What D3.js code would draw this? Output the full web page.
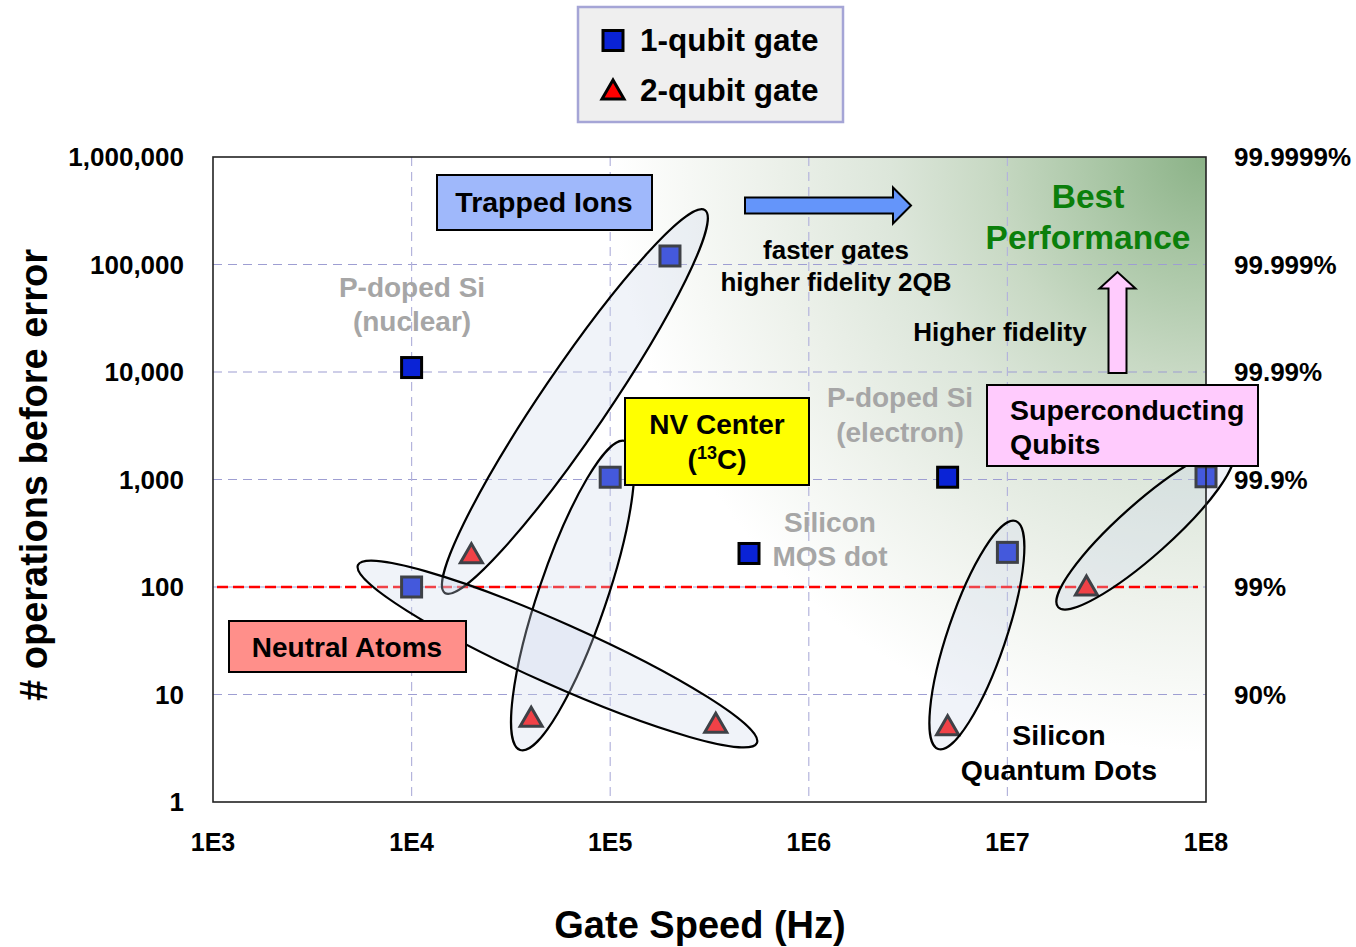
<!DOCTYPE html>
<html>
<head>
<meta charset="UTF-8">
<script src="https://d3js.org/d3.v7.min.js"></script>
<style>
  body { margin: 0; background: #fff; }
  text { font-family: Arial, "Liberation Sans", sans-serif; font-weight: bold; }
</style>
</head>
<body>
<svg id="canvas"></svg>
<script>

width = 1356;
height = 947;

// axis ticks
xTicks = [1e3, 1e4, 1e5, 1e6, 1e7, 1e8];
xTickLabels = ["1E3", "1E4", "1E5", "1E6", "1E7", "1E8"];
yTicks = [1, 10, 100, 1000, 10000, 100000, 1000000];
yTickLabels = ["1", "10", "100", "1,000", "10,000", "100,000", "1,000,000"];
fidelityLabels = ["", "90%", "99%", "99.9%", "99.99%", "99.999%", "99.9999%"];
threshold = 100;

// 1-qubit gates: speed (Hz), operations before error
oneQubitSpeed = [1e4, 2e5, 1e5, 1e4, 5e5, 5e6, 1e7, 1e8];
oneQubitOps = [11000, 120000, 1050, 100, 205, 1050, 210, 1060];

// 2-qubit gates
twoQubitSpeed = [2e4, 4e4, 3.4e5, 5e6, 2.5e7];
twoQubitOps = [200, 6, 5.3, 5, 100];

// platform groups, ends of each ellipse in data units
groupNames = ["Trapped Ions", "NV Center", "Neutral Atoms", "Silicon Quantum Dots", "Superconducting Qubits"];
groupStart = [[1.47e4, 88], [3.52e4, 3.05], [5.37e3, 160], [4.48e6, 3.11], [1.8e7, 65]];
groupEnd = [[3.0e5, 3.21e5], [1.19e5, 2280], [5.48e5, 3.54], [1.1e7, 411], [1.35e8, 1800]];

// layout
plot = {left: 213, right: 1206, top: 157, bottom: 802};
ellipseHalfWidth = [33, 34, 31, 29, 26];

canvas = d3.select("#canvas")
    .attr("width", width)
    .attr("height", height);

x = d3.scaleLog().domain([1e3, 1e8]).range([plot.left, plot.right]);
y = d3.scaleLog().domain([1, 1e6]).range([plot.bottom, plot.top]);

defs = canvas.append("defs");
grad = defs.append("radialGradient")
    .attr("id", "best")
    .attr("gradientUnits", "userSpaceOnUse")
    .attr("cx", x(1e8)).attr("cy", y(1e6)).attr("r", 700);
[[0, "#8bb287"], [0.15, "#a9c6a5"], [0.31, "#c8d9c4"], [0.45, "#dce6da"], [0.64, "#eef2ec"], [0.85, "#ffffff"], [1, "#ffffff"]]
    .forEach(s => grad.append("stop").attr("offset", s[0]).attr("stop-color", s[1]));

// background
canvas.append("rect")
    .attr("x", plot.left).attr("y", plot.top)
    .attr("width", plot.right - plot.left).attr("height", plot.bottom - plot.top)
    .attr("fill", "url(#best)");

// grid
canvas.selectAll(".hgrid")
    .data(yTicks.slice(1, -1))
    .enter().append("line")
        .attr("x1", plot.left).attr("x2", plot.right)
        .attr("y1", d => y(d)).attr("y2", d => y(d))
        .attr("stroke", "#9e9ed2").attr("stroke-width", 1.2)
        .attr("stroke-dasharray", "9,6");

canvas.selectAll(".vgrid")
    .data(xTicks.slice(1, -1))
    .enter().append("line")
        .attr("y1", plot.top).attr("y2", plot.bottom)
        .attr("x1", d => x(d)).attr("x2", d => x(d))
        .attr("stroke", "#b4b4dc").attr("stroke-width", 1.2)
        .attr("stroke-dasharray", "9,6");

canvas.append("line")
    .attr("x1", plot.left + 4).attr("x2", plot.right - 8)
    .attr("y1", y(threshold)).attr("y2", y(threshold))
    .attr("stroke", "#ff0000").attr("stroke-width", 2.5)
    .attr("stroke-dasharray", "11,5");

// tick labels
canvas.selectAll(".ylab")
    .data(yTicks)
    .enter().append("text")
        .attr("x", 184).attr("y", d => y(d))
        .attr("dy", "0.36em")
        .attr("text-anchor", "end")
        .attr("font-size", 26)
        .text((d, i) => yTickLabels[i]);

canvas.selectAll(".rlab")
    .data(yTicks)
    .enter().append("text")
        .attr("x", 1234).attr("y", d => y(d))
        .attr("dy", "0.36em")
        .attr("font-size", 26)
        .text((d, i) => fidelityLabels[i]);

canvas.selectAll(".xlab")
    .data(xTicks)
    .enter().append("text")
        .attr("x", d => x(d)).attr("y", 851)
        .attr("text-anchor", "middle")
        .attr("font-size", 25)
        .text((d, i) => xTickLabels[i]);

// axis titles
canvas.append("text")
    .attr("x", 700).attr("y", 938)
    .attr("text-anchor", "middle")
    .attr("font-size", 38)
    .text("Gate Speed (Hz)");

canvas.append("text")
    .attr("transform", "translate(47,475) rotate(-90)")
    .attr("text-anchor", "middle")
    .attr("font-size", 38)
    .text("# operations before error");

// gray labels for single points
function label(lines, cx, cy, size, color, lh) {
    var t = canvas.append("text")
        .attr("text-anchor", "middle")
        .attr("font-size", size)
        .attr("fill", color);
    lines.forEach((l, i) => t.append("tspan")
        .attr("x", cx).attr("y", cy + i * lh).text(l));
    return t;
}
label(["P-doped Si", "(nuclear)"], 412, 297, 28, "#a6a6a6", 34);
label(["P-doped Si", "(electron)"], 900, 407, 28, "#a6a6a6", 35);
label(["Silicon", "MOS dot"], 830, 532, 28, "#a6a6a6", 34);

// markers
canvas.selectAll(".sq")
    .data(oneQubitSpeed)
    .enter().append("rect")
        .attr("x", (d, i) => x(d) - 10)
        .attr("y", (d, i) => y(oneQubitOps[i]) - 10)
        .attr("width", 20).attr("height", 20)
        .attr("fill", "#0a23d6")
        .attr("stroke", "#000").attr("stroke-width", 3);

tri = "M0,-11L11,8L-11,8Z";
canvas.selectAll(".tri")
    .data(twoQubitSpeed)
    .enter().append("path")
        .attr("d", tri)
        .attr("transform", (d, i) => "translate(" + x(d) + "," + y(twoQubitOps[i]) + ")")
        .attr("fill", "#ff0000")
        .attr("stroke", "#000").attr("stroke-width", 3);

// group ellipses
canvas.selectAll(".grp")
    .data(groupNames)
    .enter().append("ellipse")
        .each(function(d, i) {
            var x1 = x(groupStart[i][0]), y1 = y(groupStart[i][1]);
            var x2 = x(groupEnd[i][0]), y2 = y(groupEnd[i][1]);
            var len = Math.hypot(x2 - x1, y2 - y1);
            var ang = Math.atan2(y2 - y1, x2 - x1) * 180 / Math.PI;
            d3.select(this)
                .attr("transform", "translate(" + (x1 + x2) / 2 + "," + (y1 + y2) / 2 + ") rotate(" + ang + ")")
                .attr("rx", len / 2)
                .attr("ry", ellipseHalfWidth[i]);
        })
        .attr("fill", "#cdd8ec").attr("fill-opacity", 0.3)
        .attr("stroke", "#000").attr("stroke-width", 2.2);

// plot border
canvas.append("rect")
    .attr("x", plot.left).attr("y", plot.top)
    .attr("width", plot.right - plot.left).attr("height", plot.bottom - plot.top)
    .attr("fill", "none").attr("stroke", "#222").attr("stroke-width", 1.6);

// boxed platform names
function box(x0, y0, w, h, fill) {
    canvas.append("rect")
        .attr("x", x0).attr("y", y0).attr("width", w).attr("height", h)
        .attr("fill", fill).attr("stroke", "#000").attr("stroke-width", 2);
}
box(437, 175, 215, 55, "#9fb8fb");
label([groupNames[0]], 544, 212, 28.5, "#000", 0);

box(625, 398, 184, 87, "#ffff00");
label([groupNames[1]], 717, 434, 28, "#000", 0);
nv = canvas.append("text")
    .attr("x", 717).attr("y", 469)
    .attr("text-anchor", "middle")
    .attr("font-size", 28);
nv.append("tspan").text("(");
nv.append("tspan").attr("font-size", 18).attr("dy", -10).text("13");
nv.append("tspan").attr("dy", 10).text("C)");

box(229, 621, 237, 51, "#ff8f8a");
label([groupNames[2]], 347, 657, 28, "#000", 0);

box(987, 385, 271, 81, "#ffcbfd");
sc = canvas.append("text").attr("font-size", 28.5);
sc.append("tspan").attr("x", 1010).attr("y", 420).text("Superconducting");
sc.append("tspan").attr("x", 1010).attr("y", 454).text("Qubits");

label(["Silicon", "Quantum Dots"], 1059, 745, 28.5, "#000", 35);

// trend annotations
label(["Best", "Performance"], 1088, 208, 33.5, "#0b7f0b", 41);
label(["faster gates", "higher fidelity 2QB"], 836, 259, 26, "#000", 32);
label(["Higher fidelity"], 1000, 341, 26, "#000", 0);

canvas.append("path")
    .attr("d", "M745,197.5H893V187.5L911,205.5L893,223.5V213.5H745Z")
    .attr("fill", "#6495fa").attr("stroke", "#000").attr("stroke-width", 2);

canvas.append("path")
    .attr("d", "M1108.5,373V288.5H1099.5L1117.5,272L1135.5,288.5H1126.5V373Z")
    .attr("fill", "#ffcbfd").attr("stroke", "#000").attr("stroke-width", 2);

// legend
canvas.append("rect")
    .attr("x", 578).attr("y", 7).attr("width", 265).attr("height", 115)
    .attr("fill", "#efefef").attr("stroke", "#a5a5d6").attr("stroke-width", 2.5);
canvas.append("rect")
    .attr("x", 603).attr("y", 30.5).attr("width", 20).attr("height", 20)
    .attr("fill", "#0a23d6").attr("stroke", "#000").attr("stroke-width", 3);
canvas.append("path")
    .attr("d", tri)
    .attr("transform", "translate(613,91)")
    .attr("fill", "#ff0000").attr("stroke", "#000").attr("stroke-width", 3);
canvas.append("text").attr("x", 640).attr("y", 51).attr("font-size", 31.5).text("1-qubit gate");
canvas.append("text").attr("x", 640).attr("y", 101).attr("font-size", 31.5).text("2-qubit gate");

</script>
</body>
</html>
